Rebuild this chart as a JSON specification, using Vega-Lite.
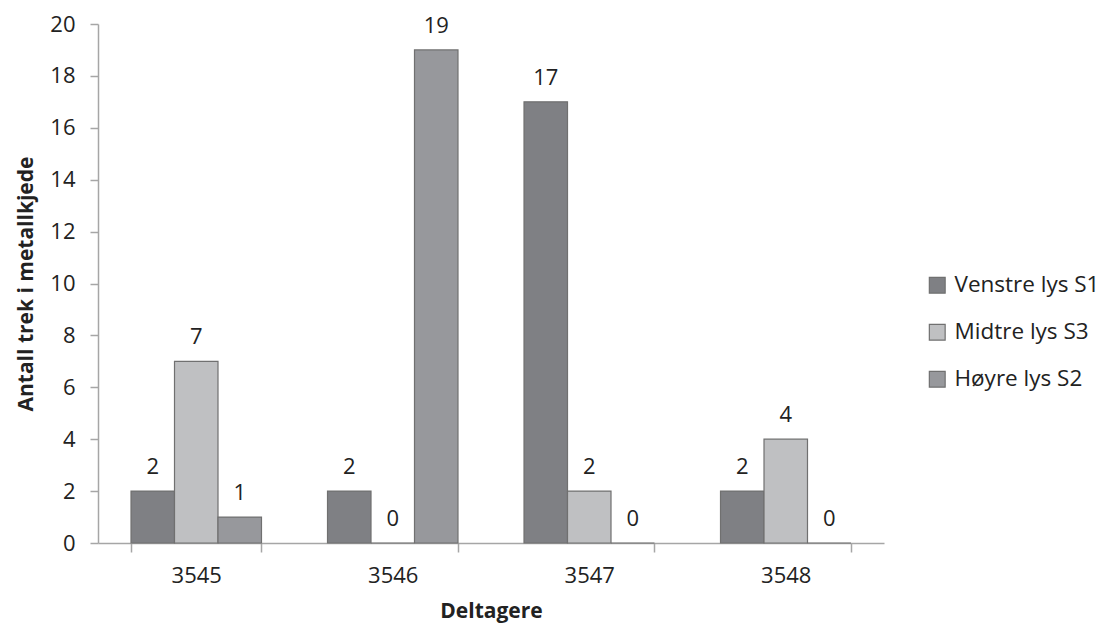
{
  "$schema": "https://vega.github.io/schema/vega-lite/v6.json",
  "width": 786,
  "height": 519,
  "autosize": {"type": "none"},
  "padding": {"left": 98, "top": 24, "right": 220, "bottom": 92},
  "background": "white",
  "config": {
    "view": {"stroke": null},
    "font": "Open Sans",
    "axis": {"labelFont": "Open Sans", "titleFont": "Open Sans", "labelColor": "#222222", "titleColor": "#222222", "domainColor": "#A6A6A6", "tickColor": "#A6A6A6", "domainWidth": 1.5, "tickWidth": 1.5, "grid": false, "labelFontSize": 22, "titleFontSize": 21, "titleFontWeight": "bold"},
    "legend": {"labelFont": "Open Sans", "labelFontSize": 22.5, "labelColor": "#222222"}
  },
  "data": {
    "values": [
      {"deltager": "3545", "serie": "Venstre lys S1", "antall": 2},
      {"deltager": "3545", "serie": "Midtre lys S3", "antall": 7},
      {"deltager": "3545", "serie": "Høyre lys S2", "antall": 1},
      {"deltager": "3546", "serie": "Venstre lys S1", "antall": 2},
      {"deltager": "3546", "serie": "Midtre lys S3", "antall": 0},
      {"deltager": "3546", "serie": "Høyre lys S2", "antall": 19},
      {"deltager": "3547", "serie": "Venstre lys S1", "antall": 17},
      {"deltager": "3547", "serie": "Midtre lys S3", "antall": 2},
      {"deltager": "3547", "serie": "Høyre lys S2", "antall": 0},
      {"deltager": "3548", "serie": "Venstre lys S1", "antall": 2},
      {"deltager": "3548", "serie": "Midtre lys S3", "antall": 4},
      {"deltager": "3548", "serie": "Høyre lys S2", "antall": 0}
    ]
  },
  "encoding": {
    "x": {
      "field": "deltager", "type": "nominal",
      "scale": {"paddingInner": 0.336, "paddingOuter": 0.168},
      "axis": {"title": "Deltagere", "labelAngle": 0, "tickBand": "extent", "tickSize": 9, "labelPadding": 13, "titlePadding": 14}
    },
    "xOffset": {"field": "serie", "type": "nominal", "sort": ["Venstre lys S1", "Midtre lys S3", "Høyre lys S2"], "scale": {"paddingInner": 0, "paddingOuter": 0}},
    "y": {
      "field": "antall", "type": "quantitative",
      "scale": {"domain": [0, 20], "nice": false},
      "axis": {"title": "Antall trek i metallkjede", "values": [0, 2, 4, 6, 8, 10, 12, 14, 16, 18, 20], "tickSize": 8, "labelPadding": 15, "titlePadding": 13}
    }
  },
  "layer": [
    {
      "mark": {"type": "bar", "stroke": "#707070", "strokeWidth": 1.2},
      "encoding": {
        "color": {
          "field": "serie", "type": "nominal",
          "sort": ["Venstre lys S1", "Midtre lys S3", "Høyre lys S2"],
          "scale": {"domain": ["Venstre lys S1", "Midtre lys S3", "Høyre lys S2"], "range": ["#7F8084", "#BFC0C2", "#97989C"]},
          "legend": {"title": null, "orient": "none", "legendX": 828, "legendY": 250, "symbolType": "square", "symbolSize": 250, "symbolStrokeColor": "#707070", "symbolStrokeWidth": 1.2, "symbolOpacity": 1, "rowPadding": 24, "labelOffset": 6}
        }
      }
    },
    {
      "mark": {"type": "text", "baseline": "alphabetic", "dy": -17, "fontSize": 22, "color": "#222222"},
      "encoding": {
        "text": {"field": "antall", "type": "quantitative"}
      }
    }
  ]
}
